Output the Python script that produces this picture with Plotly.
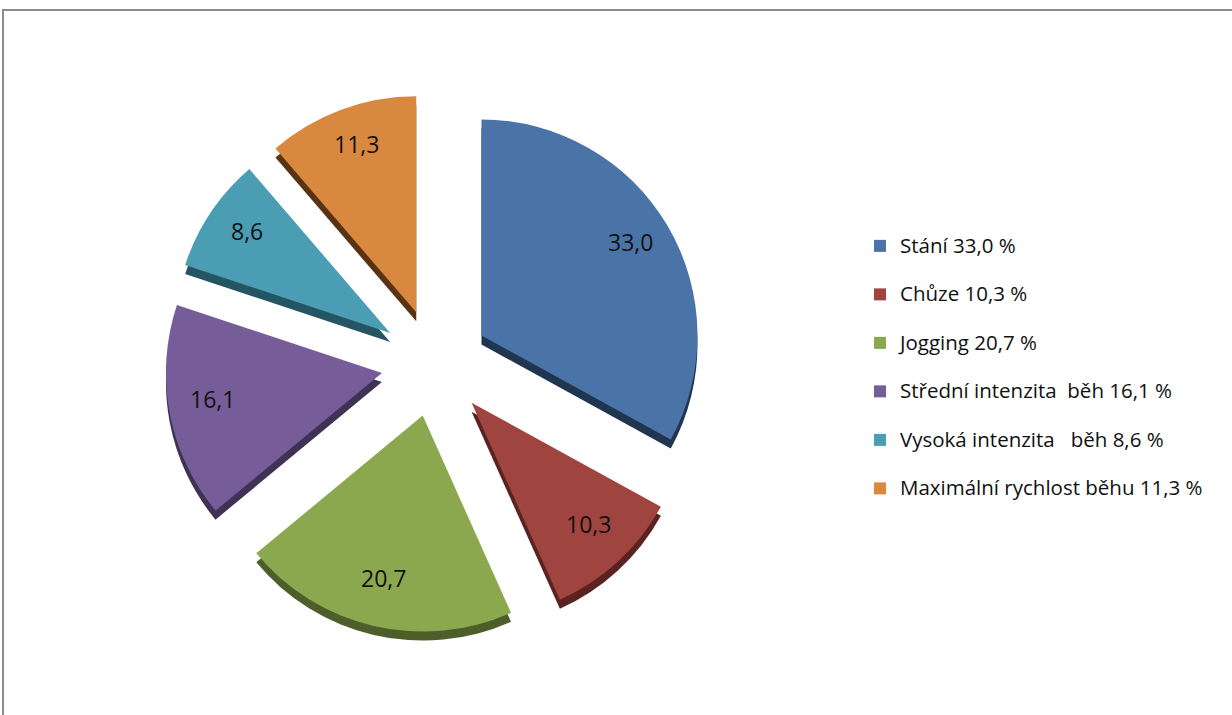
import math
import plotly.graph_objects as go

# Share of time spent in each activity (%)
activities = ["Stání", "Chůze", "Jogging", "Střední intenzita  běh",
              "Vysoká intenzita   běh", "Maximální rychlost běhu"]
shares = [33.0, 10.3, 20.7, 16.1, 8.6, 11.3]

top_colors = ["#4A74A8", "#A0443F", "#8BA84E", "#765C98", "#4A9DB3", "#D9883F"]
side_colors = ["#1F3550", "#5A2220", "#4E5E2A", "#3F3254", "#245562", "#5A3313"]

W, H = 1232, 715
pull = 0.25
cx, cy = 435, 363          # pie centre in pixels
box = 540                  # pie box side in pixels
depth = 9                  # extrusion thickness in pixels
label_frac = 0.80          # label distance from the slice tip, in radii
label_lift = 6             # labels sit slightly above the bisector point

FONT = "Open Sans, Lato, sans-serif"


def fmt(v):
    return f"{v:.1f}".replace(".", ",")


value_text = [fmt(v) for v in shares]
legend_labels = [f'<span style="font-size:20.5px">{a} {fmt(v)} %</span><br> '
                 for a, v in zip(activities, shares)]


def domain(dy=0):
    x0 = (cx - box / 2) / W
    x1 = (cx + box / 2) / W
    y0 = (H - (cy + dy) - box / 2) / H
    y1 = (H - (cy + dy) + box / 2) / H
    return dict(x=[x0, x1], y=[y0, y1])


fig = go.Figure()

# darker copy shifted down gives the slices their visible thickness
fig.add_trace(go.Pie(
    labels=legend_labels, values=shares, sort=False, direction="clockwise",
    rotation=0, pull=[pull] * len(shares), domain=domain(depth),
    marker=dict(colors=side_colors, line=dict(width=0)),
    textinfo="none", showlegend=False, hoverinfo="skip",
))

fig.add_trace(go.Pie(
    labels=legend_labels, values=shares, sort=False, direction="clockwise",
    rotation=0, pull=[pull] * len(shares), domain=domain(0),
    marker=dict(colors=top_colors, line=dict(width=0)),
    textinfo="none",
    hovertemplate="%{value}<extra></extra>",
))

# value labels placed along each slice's bisector
radius = box / (2 * (1 + pull))
total = sum(shares)
annotations = []
cum = 0.0
for v, t in zip(shares, value_text):
    mid = (cum + v / 2) / total * 2 * math.pi
    cum += v
    dist = radius * (pull + label_frac)
    px = cx + dist * math.sin(mid)
    py = cy - dist * math.cos(mid) - label_lift
    annotations.append(dict(
        x=px / W, y=1 - py / H, xref="paper", yref="paper",
        xanchor="center", yanchor="middle",
        text=t, showarrow=False,
        font=dict(family=FONT, size=23, color="#111111"),
    ))

fig.update_layout(
    width=W, height=H,
    margin=dict(l=0, r=0, t=0, b=0),
    paper_bgcolor="white",
    plot_bgcolor="white",
    annotations=annotations,
    legend=dict(
        x=860 / W, y=1 - 228 / H, xanchor="left", yanchor="top",
        font=dict(family=FONT, size=17.5, color="#111111"),
        valign="top", bgcolor="rgba(0,0,0,0)",
    ),
    shapes=[dict(
        type="rect", xref="paper", yref="paper",
        x0=3 / W, x1=1.02, y0=-0.02, y1=1 - 10 / H,
        line=dict(color="#8C8C8C", width=2), fillcolor="rgba(0,0,0,0)",
    )],
)

fig.write_html("out.html")
